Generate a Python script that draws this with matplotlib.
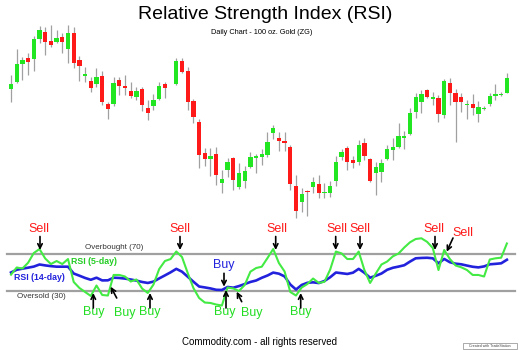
import matplotlib.pyplot as plt
import numpy as np
from matplotlib.patches import Rectangle

plt.rcParams['font.family'] = ['Liberation Sans', 'DejaVu Sans']

# daily candles, 100 oz gold (price units); one holiday gap after day 28
opens = [211, 218, 236, 242, 241, 261, 268, 259, 258, 263,
         251, 267, 240, 224, 219, 216, 224, 196, 196, 220,
         214, 209, 203, 211, 192, 194, 201, 216,
         216, 239, 229, 199, 178, 147, 141, 146, 117, 130,
         142, 113, 119, 133, 142, 143, 145, 167, 162, 159,
         153, 114, 98, 109, 113, 116, 107, 107, 119, 143,
         152, 140, 138, 157, 141, 127, 128, 141, 150, 153,
         162, 166, 188, 198, 210, 201, 202, 185, 217, 207,
         203, 195, 196, 186, 191, 196, 204, 205, 207]
highs = [225, 251, 243, 247, 264, 274, 273, 275, 270, 267,
         275, 273, 244, 233, 223, 232, 229, 198, 223, 223,
         225, 218, 213, 213, 200, 206, 218, 218,
         242, 242, 233, 201, 181, 152, 152, 153, 130, 142,
         143, 137, 134, 148, 146, 151, 168, 175, 168, 168,
         155, 125, 112, 110, 123, 125, 117, 119, 144, 151,
         154, 144, 160, 162, 142, 138, 141, 155, 162, 177,
         169, 192, 207, 210, 211, 208, 205, 221, 222, 211,
         207, 200, 206, 199, 194, 207, 216, 208, 227]
lows = [198, 217, 220, 225, 229, 257, 245, 253, 257, 247,
        237, 232, 219, 218, 208, 213, 195, 181, 194, 205,
        205, 202, 200, 189, 180, 190, 200, 202,
        215, 227, 190, 177, 132, 134, 124, 115, 107, 123,
        110, 111, 112, 132, 127, 135, 143, 161, 149, 149,
        110, 82, 88, 84, 107, 102, 102, 103, 114, 140,
        130, 132, 135, 140, 118, 105, 118, 140, 140, 152,
        151, 165, 182, 187, 202, 195, 178, 182, 195, 158,
        188, 181, 185, 178, 190, 194, 200, 204, 207]
closes = [216, 236, 240, 238, 261, 270, 258, 255, 262, 258,
          267, 237, 234, 226, 212, 223, 198, 191, 217, 214,
          212, 204, 209, 195, 187, 200, 214, 212,
          239, 228, 198, 183, 145, 141, 144, 125, 121, 138,
          120, 127, 129, 143, 144, 146, 158, 172, 159, 157,
          116, 89, 106, 108, 118, 107, 108, 114, 138, 148,
          138, 137, 155, 144, 119, 133, 137, 151, 153, 164,
          164, 187, 203, 206, 203, 203, 186, 219, 207, 198,
          198, 196, 192, 193, 192, 204, 206, 206, 222]

# RSI values, one per day slot (88 slots)
rsi5 = [47.6, 55.5, 54.4, 60.7, 71.4, 75.8, 65.4, 59.3, 62.6, 59.3,
        64.8, 39.6, 33.0, 28.6, 24.2, 35.7, 25.3, 24.7, 47.3, 47.3,
        45.6, 40.1, 42.3, 32.4, 27.5, 36.8, 53.8, 62.6, 64.8, 73.1,
        67.0, 49.5, 33.0, 22.0, 17.0, 16.5, 14.8, 13.7, 33.5, 32.4,
        29.7, 36.3, 50.9, 54.9, 56.4, 65.9, 75.8, 60.4, 51.1, 28.6,
        24.7, 33.5, 37.4, 43.4, 38.5, 39.8, 53.3, 73.0, 71.0, 64.8,
        64.8, 73.0, 52.7, 38.5, 48.9, 58.8, 62.1, 67.8, 70.9, 77.5,
        83.2, 86.8, 87.6, 83.7, 76.9, 52.7, 74.7, 64.8, 57.7, 55.7,
        52.7, 47.3, 47.3, 45.6, 64.3, 65.6, 66.3, 81.9]
rsi14 = [50.0, 53.0, 54.2, 55.3, 56.5, 58.8, 57.8, 57.0, 56.4, 56.4,
         56.4, 48.9, 46.5, 44.0, 42.0, 44.3, 41.3, 41.4, 44.3, 44.0,
         43.3, 42.3, 41.1, 39.6, 38.5, 40.0, 43.5, 46.8, 50.2, 54.0,
         50.9, 45.4, 39.9, 34.6, 33.6, 32.5, 31.0, 30.8, 34.1, 33.3,
         35.1, 37.3, 39.6, 41.2, 44.2, 46.7, 49.9, 48.7, 45.7, 36.8,
         31.3, 36.3, 38.7, 39.2, 38.4, 40.7, 44.8, 50.0, 49.2, 48.4,
         49.8, 54.0, 49.7, 44.3, 46.4, 48.9, 53.0, 55.2, 56.5, 58.0,
         62.0, 65.6, 66.0, 66.2, 65.6, 60.1, 64.9, 61.3, 59.7, 59.0,
         57.6, 56.3, 55.6, 56.7, 59.0, 59.5, 60.1, 64.0]

overbought = 70
oversold = 30

GREEN = '#22e622'
RED = '#ff1a1a'
BLUE = '#2222dd'

fig = plt.figure(figsize=(5.2, 3.5), dpi=100)
xlim = (-1.93, 89.3)

# price panel
o = np.array(opens); c = np.array(closes)
pos = np.r_[np.arange(28), np.arange(29, 88)]
up = c >= o
ax = fig.add_axes([0, 125 / 350, 1, 205 / 350])
ax.vlines(pos, lows, highs, color='#a0a0a0', lw=0.9, zorder=1)
ax.bar(pos, np.abs(c - o), bottom=np.minimum(o, c), width=0.75,
       color=np.where(up, GREEN, RED), linewidth=0, zorder=2)
ax.set_xlim(*xlim)
ax.set_ylim(75, 280)
ax.axis('off')

# RSI panel
ax2 = fig.add_axes([0, 30 / 350, 1, 95 / 350])
for lvl in (overbought, oversold):
    ax2.axhline(lvl, xmin=7 / 520, xmax=515 / 520, color='#a0a0a0', lw=1.6, zorder=1)
slots = np.arange(len(rsi5))
ax2.plot(slots, rsi14, color=BLUE, lw=1.9, zorder=2)
ax2.plot(slots, rsi5, color='#44ea44', lw=1.5, zorder=3)
ax2.set_xlim(*xlim)
ax2.set_ylim(-2.2, 102.2)
ax2.axis('off')

# annotation layer in pixel coordinates
ov = fig.add_axes([0, 0, 1, 1], zorder=5)
ov.set_xlim(0, 520)
ov.set_ylim(350, 0)
ov.axis('off')
ov.patch.set_alpha(0)

ov.text(265, 14.5, 'Relative Strength Index (RSI)', size=14, ha='center', va='center')
ov.text(261.5, 32, 'Daily Chart - 100 oz. Gold (ZG)', size=5.3, ha='center', va='center')
ov.text(259.5, 342, 'Commodity.com - all rights reserved', size=7, ha='center', va='center')
ov.add_patch(Rectangle((463, 343), 54, 6, fc='white', ec='#888888', lw=0.5))
ov.text(490, 346, 'Created with TradeStation', size=2.6, ha='center', va='center', color='#444444')

ov.text(114, 247.5, 'Overbought (70)', size=5.8, ha='center', va='center', color='#333333')
ov.text(41, 296, 'Oversold (30)', size=5.8, ha='center', va='center', color='#333333')
ov.text(94, 261, 'RSI (5-day)', size=6.3, ha='center', va='center', color='#22cc22', weight='bold')
ov.text(39.5, 277, 'RSI (14-day)', size=6.3, ha='center', va='center', color=BLUE, weight='bold')

arrow = dict(arrowstyle='->', color='black', lw=1.2, mutation_scale=8, shrinkA=0, shrinkB=0)

sell_labels = [(39, 229), (180, 229), (276.5, 229), (336.5, 229), (360, 229), (434, 229), (463, 233)]
for x, y in sell_labels:
    ov.text(x, y, 'Sell', size=9, ha='center', va='center', color=RED)
for x in (40, 180, 275.7, 335.7, 360, 435):
    ov.annotate('', xy=(x, 250), xytext=(x, 236.5), arrowprops=arrow)
ov.annotate('', xy=(446.7, 251.7), xytext=(453, 238), arrowprops=arrow)

buy_labels = [(94, 311.5), (125, 313), (150, 311.5), (225, 311.5), (252, 313), (301, 311.5)]
for x, y in buy_labels:
    ov.text(x, y, 'Buy', size=9, ha='center', va='center', color='#22dd22')
for x, tip in ((93.3, 293), (150, 293), (226, 290), (300.7, 293)):
    ov.annotate('', xy=(x, tip), xytext=(x, 308), arrowprops=arrow)
ov.annotate('', xy=(110.7, 286.7), xytext=(116.7, 298), arrowprops=arrow)
ov.annotate('', xy=(236.7, 291.7), xytext=(241.7, 301.7), arrowprops=arrow)

ov.text(224, 265, 'Buy', size=9, ha='center', va='center', color=BLUE)
ov.annotate('', xy=(224, 286.7), xytext=(224, 273.3), arrowprops=arrow)

fig.savefig('out.png', dpi=100)
